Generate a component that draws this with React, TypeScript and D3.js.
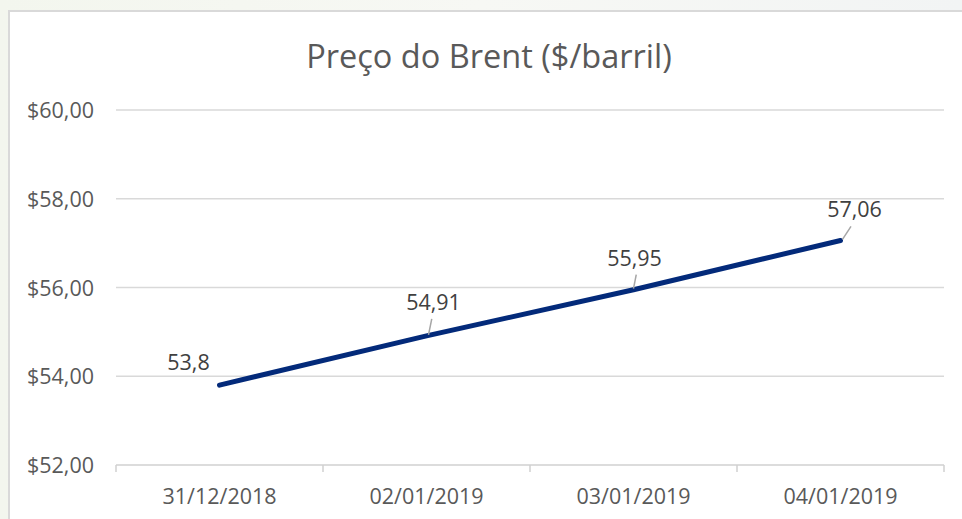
import React from "react";
import * as d3 from "d3";

const categories = ["31/12/2018", "02/01/2019", "03/01/2019", "04/01/2019"];
const prices = [53.8, 54.91, 55.95, 57.06];
const yTicks = [52, 54, 56, 58, 60];
const title = "Preço do Brent ($/barril)";

const W = 962;
const H = 519;
const FONT = "'Open Sans', 'Noto Sans', sans-serif";

// label placement relative to the point (layout only)
const labelOffsets = [
  { dx: -31, dy: -15, leader: false },
  { dx: 7, dy: -26, leader: true },
  { dx: 1, dy: -24, leader: true },
  { dx: 14, dy: -23, leader: true },
];

export default function App() {
  const left = 116;
  const right = 944;
  const top = 110;
  const bottom = 465;

  const x = d3.scaleBand<string>().domain(categories).range([left, right]);
  const y = d3.scaleLinear().domain([52, 60]).range([bottom, top]);

  const pts = prices.map((v, i) => [x(categories[i])! + x.bandwidth() / 2, y(v)] as [number, number]);
  const line = d3.line()(pts) || "";

  const fmtTick = (v: number) => "$" + v.toFixed(2).replace(".", ",");
  const fmtVal = (v: number) => String(v).replace(".", ",");

  const boundaries = [...categories.map((c) => x(c)!), right];

  return (
    <svg
      width={W}
      height={H}
      style={{ position: "absolute", left: 0, top: 0, display: "block" }}
    >
      <defs>
        <linearGradient id="bg" x1="0" y1="0" x2="1" y2="0">
          <stop offset="0" stopColor="#f3f6ee" />
          <stop offset="0.5" stopColor="#f7f8f4" />
          <stop offset="1" stopColor="#f2f4f4" />
        </linearGradient>
      </defs>
      <rect x={0} y={0} width={W} height={H} fill="url(#bg)" />
      <rect x={9} y={11} width={W + 10} height={H + 10} fill="#ffffff" stroke="#d9d9d9" strokeWidth={2} />

      <text
        x={489}
        y={68}
        textAnchor="middle"
        fontFamily={FONT}
        fontSize={32.5}
        fill="#595959"
      >
        {title}
      </text>

      {yTicks.map((t) => (
        <g key={t}>
          {t !== 52 && (
            <line x1={left} x2={right} y1={y(t)} y2={y(t)} stroke="#d9d9d9" strokeWidth={1.5} />
          )}
          <text
            x={94}
            y={y(t) + 8}
            textAnchor="end"
            fontFamily={FONT}
            fontSize={21.5}
            fill="#595959"
          >
            {fmtTick(t)}
          </text>
        </g>
      ))}

      <line x1={left} x2={right} y1={bottom} y2={bottom} stroke="#d0d0d0" strokeWidth={1.5} />
      {boundaries.map((bx, i) => (
        <line key={i} x1={bx} x2={bx} y1={bottom} y2={bottom + 7} stroke="#d0d0d0" strokeWidth={1.5} />
      ))}

      {categories.map((c) => (
        <text
          key={c}
          x={x(c)! + x.bandwidth() / 2}
          y={504}
          textAnchor="middle"
          fontFamily={FONT}
          fontSize={21.5}
          fill="#595959"
        >
          {c}
        </text>
      ))}

      <path d={line} fill="none" stroke="#032a7a" strokeWidth={5} strokeLinecap="round" />

      {pts.map((p, i) => {
        const o = labelOffsets[i];
        const lx = p[0] + o.dx;
        const ly = p[1] + o.dy;
        return (
          <g key={i}>
            {o.leader && (
              <line
                x1={p[0] + (o.dx > 3 ? 2 : 0)}
                y1={p[1] - 1}
                x2={p[0] + o.dx * 0.75 + (o.dx > 3 ? 0 : 2)}
                y2={ly + 9}
                stroke="#a6a6a6"
                strokeWidth={1.5}
              />
            )}
            <text
              x={lx}
              y={ly}
              textAnchor="middle"
              fontFamily={FONT}
              fontSize={21.5}
              fill="#404040"
            >
              {fmtVal(prices[i])}
            </text>
          </g>
        );
      })}
    </svg>
  );
}
